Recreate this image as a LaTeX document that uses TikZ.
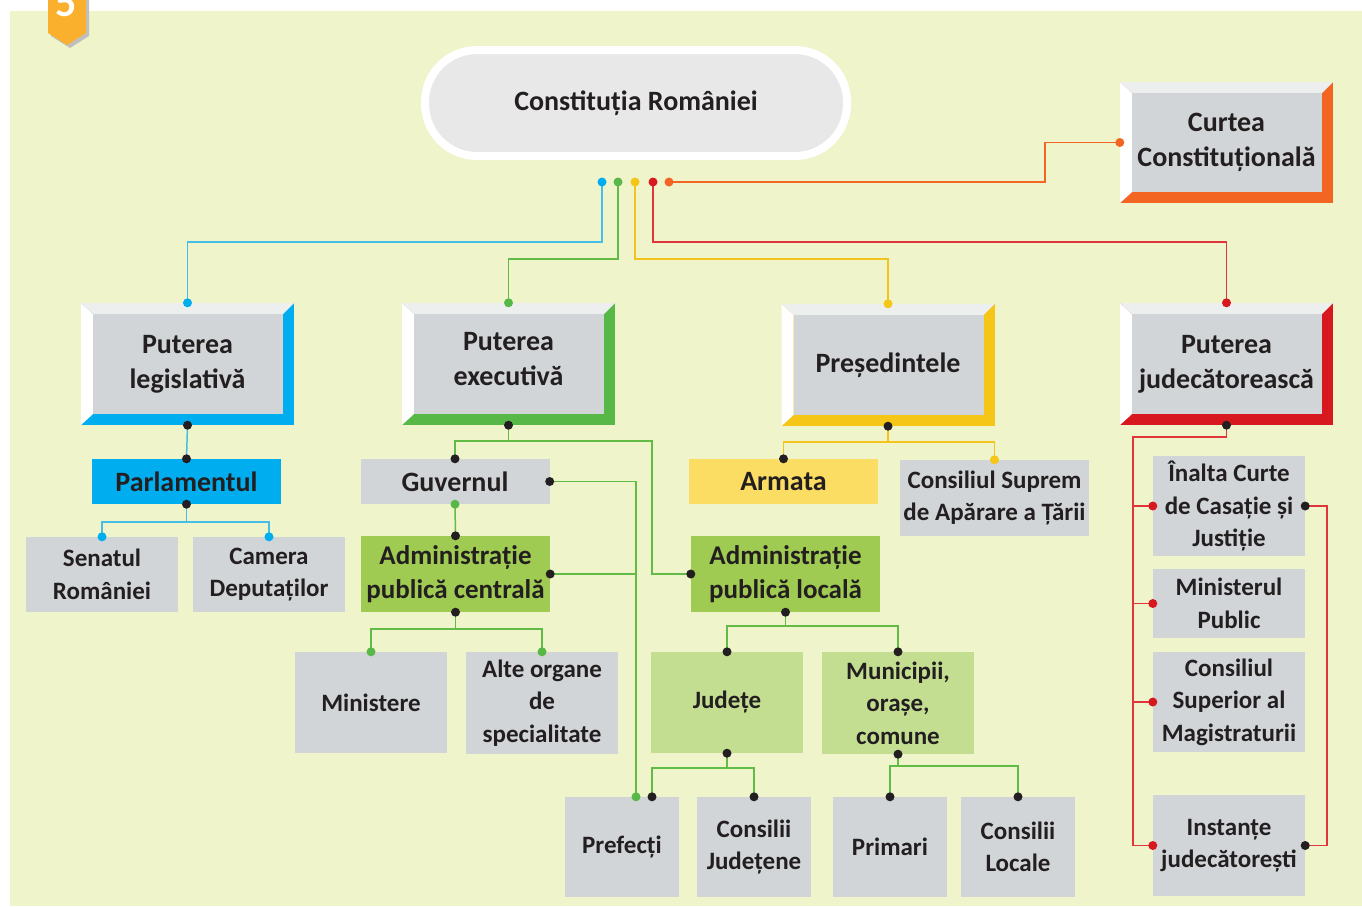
\documentclass[tikz,border=0pt]{standalone}
\usepackage{fontspec}
\setmainfont{Carlito}
\usetikzlibrary{arrows.meta,positioning,calc}
\definecolor{bggreen}{HTML}{EFF4CB}
\definecolor{boxgray}{HTML}{D2D5D8}
\definecolor{pillgray}{HTML}{E8E8E8}
\definecolor{bevellight}{HTML}{EDEFEF}
\definecolor{ink}{HTML}{231F20}
\definecolor{cblue}{HTML}{00AEEF}
\definecolor{bluewire}{HTML}{45BFE8}
\definecolor{cgreen}{HTML}{57B848}
\definecolor{greenwire}{HTML}{62BB46}
\definecolor{greenfill}{HTML}{A0CB52}
\definecolor{lightgreen}{HTML}{C4DE91}
\definecolor{cyellow}{HTML}{F5C518}
\definecolor{yellowwire}{HTML}{F3C320}
\definecolor{yellowfill}{HTML}{FCDD63}
\definecolor{cred}{HTML}{D7191F}
\definecolor{redwire}{HTML}{E0363B}
\definecolor{corange}{HTML}{F26522}
\definecolor{badge}{HTML}{FBB02D}
\newcommand{\fstitle}{\fontsize{28}{34}\selectfont\bfseries}
\newcommand{\fshead}{\fontsize{28}{35}\selectfont\bfseries}
\newcommand{\fsbox}{\fontsize{25}{32.5}\selectfont\bfseries}

\begin{document}
\begin{tikzpicture}[
  x=1pt,y=-1pt,
  wire/.style={line width=1.5pt,draw=#1},
  bevel/.style={minimum width=213pt,minimum height=122pt,inner sep=0pt,
    fill=#1,align=center,font=\fshead,text=ink,
    path picture={
      \fill[white] (path picture bounding box.south west)
        -- (path picture bounding box.north west)
        -- ([shift={(12pt,-11pt)}]path picture bounding box.north west)
        -- ([shift={(12pt,11pt)}]path picture bounding box.south west) -- cycle;
      \fill[bevellight] (path picture bounding box.north west)
        -- (path picture bounding box.north east)
        -- ([shift={(-11pt,-11pt)}]path picture bounding box.north east)
        -- ([shift={(12pt,-11pt)}]path picture bounding box.north west) -- cycle;
      \fill[boxgray] ([shift={(12pt,11pt)}]path picture bounding box.south west)
        rectangle ([shift={(-11pt,-11pt)}]path picture bounding box.north east);
    }},
  tag/.style={fill=#1,minimum width=189pt,inner sep=0pt,align=center,
    font=\fshead,text=ink},
  leaf/.style={fill=#1,minimum width=152pt,inner sep=0pt,align=center,
    font=\fsbox,text=ink},
  small/.style={fill=boxgray,minimum width=114pt,minimum height=100pt,
    inner sep=0pt,align=center,font=\fsbox,text=ink}
]
\useasboundingbox (0,0) rectangle (1362,906);
\clip (0,0) rectangle (1362,906);
\fill[white] (0,0) rectangle (1362,906);
\fill[bggreen] (10,11) rectangle (1362,906);

% badge
\fill[black!25] (51,-20) -- (89,-20) -- (89,36) -- (70,48) -- (51,36) -- cycle;
\fill[badge] (48,-20) -- (86,-20) -- (86,33) -- (67,45) -- (48,33) -- cycle;
\node[text=white,font=\fontsize{42}{42}\selectfont\bfseries] (num) at (66,3) {5};

% constitution
\node[fill=pillgray,draw=white,line width=8pt,rounded corners=52pt,
  minimum width=422pt,minimum height=106pt,font=\fstitle,text=ink]
  (const) at (636,103) {Constituția României};
\coordinate (dB) at (602,182);
\coordinate (dG) at (618,182);
\coordinate (dY) at (635,182);
\coordinate (dR) at (653,182);
\coordinate (dO) at (669,182);

% powers
\node[bevel=cblue] (legis) at (187.5,364) {Puterea\\legislativă};
\node[bevel=cgreen] (exec) at (508.5,364) {Puterea\\executivă\strut};
\node[bevel=cyellow] (pres) at (888,365) {Președintele};
\node[bevel=cred] (jud) at (1226.5,364) {Puterea\\judecătorească};
\node[bevel=corange,minimum height=121pt] (curtea) at (1226.5,142.5)
  {Curtea\\Constituțională};

% legislative
\node[tag=cblue,minimum height=45pt] (parl) at (186.5,481.5) {Parlamentul};
\node[leaf=boxgray,minimum height=75pt] (senat) at (102,574.5) {Senatul\\României};
\node[leaf=boxgray,minimum height=75pt] (camera) at (269,574.5) {Camera\\Deputaților};

% executive
\node[tag=boxgray,minimum height=45pt] (guv) at (455,481.5) {Guvernul};
\node[tag=greenfill,minimum height=76pt,font=\fontsize{27}{34}\selectfont\bfseries]
  (apc) at (455.5,574) {Administrație\\publică centrală};
\node[leaf=boxgray,minimum height=101pt] (mini) at (371,702.5) {Ministere};
\node[leaf=boxgray,minimum height=102pt] (alte) at (542,703)
  {Alte organe\\de\\specialitate};
\node[tag=greenfill,minimum height=76pt,font=\fontsize{27}{34}\selectfont\bfseries]
  (apl) at (785.5,574) {Administrație\\publică locală};
\node[leaf=lightgreen,minimum height=101pt] (judete) at (727,702.5) {Județe};
\node[leaf=lightgreen,minimum height=102pt] (munic) at (898,703)
  {Municipii,\\orașe,\\comune};
\node[small] (pref) at (622,847) {Prefecți};
\node[small] (cj) at (754,847) {Consilii\\Județene};
\node[small] (primari) at (890,847) {Primari};
\node[small] (cl) at (1018,847) {Consilii\\Locale};
\coordinate (prefin) at ([xshift=14pt]pref.north);
\coordinate (prefj) at ([xshift=30pt]pref.north);

% president
\node[tag=yellowfill,minimum height=45pt] (armata) at (783.5,481.5) {Armata};
\node[tag=boxgray,minimum height=76pt,font=\fsbox] (csat) at (994.5,498)
  {Consiliul Suprem\\de Apărare a Țării};

% judiciary
\node[leaf=boxgray,minimum height=100pt] (iccj) at (1229,506)
  {Înalta Curte\\de Casație și\\Justiție};
\node[leaf=boxgray,minimum height=69pt] (mp) at (1229,603.5) {Ministerul\\Public};
\node[leaf=boxgray,minimum height=100pt] (csm) at (1229,702)
  {Consiliul\\Superior al\\Magistraturii};
\node[leaf=boxgray,minimum height=101pt] (inst) at (1229,845.5)
  {Instanțe\\judecătorești};

% connectors
\draw[wire=bluewire] (dB) -- ++(0,60) -| (legis.north);
\draw[wire=greenwire] (dG) -- ++(0,77) -| (exec.north);
\draw[wire=yellowwire] (dY) -- ++(0,77) -| (pres.north);
\draw[wire=redwire] (dR) -- ++(0,60) -| (jud.north);
\draw[wire=corange] (dO) -- ++(376,0) |- (curtea.west);

\draw[wire=bluewire] (legis.south) -- (parl.north);
\draw[wire=bluewire] (parl.south) -- ++(0,18) -| (senat.north);
\draw[wire=bluewire] (parl.south) ++(0,18) -| (camera.north);

\draw[wire=greenwire] (exec.south) -- ++(0,16) -| (guv.north);
\draw[wire=greenwire] (exec.south) ++(0,16) -| ([xshift=-39pt]apl.west) -- (apl.west);
\draw[wire=greenwire] (guv.south) -- (apc.north);
\draw[wire=greenwire] (guv.east) -| (prefin);
\draw[wire=greenwire] (apc.east) -- (apc.east -| prefin);
\draw[wire=greenwire] (apc.south) -- ++(0,17) -| (mini.north);
\draw[wire=greenwire] (apc.south) ++(0,17) -| (alte.north);
\draw[wire=greenwire] (apl.south) -- ++(0,14) -| (judete.north);
\draw[wire=greenwire] (apl.south) ++(0,14) -| (munic.north);
\draw[wire=greenwire] (judete.south) -- ++(0,15) -| (prefj);
\draw[wire=greenwire] (judete.south) ++(0,15) -| (cj.north);
\draw[wire=greenwire] (munic.south) -- ++(0,12) -| (primari.north);
\draw[wire=greenwire] (munic.south) ++(0,12) -| (cl.north);

\draw[wire=yellowwire] (pres.south) -- ++(0,16) -| (armata.north);
\draw[wire=yellowwire] (pres.south) ++(0,16) -| (csat.north);

\draw[wire=redwire] (jud.south) -- ++(0,12) -| ([xshift=-20pt]inst.west) -- (inst.west);
\foreach \n in {iccj,mp,csm}
  \draw[wire=redwire] ([xshift=-20pt]\n.west) -- (\n.west);
\draw[wire=redwire] (iccj.east) -- ++(22,0) |- (inst.east);

% dots
\foreach \p in {legis.south,parl.north,parl.south,exec.south,guv.north,
  guv.east,apc.north,apc.east,apc.south,pres.south,armata.north,apl.west,
  apl.south,judete.north,munic.north,judete.south,munic.south,prefj,
  cj.north,primari.north,cl.north,jud.south,iccj.east,inst.east}
  \fill[ink] (\p) circle (4.5pt);
\foreach \p in {dB,legis.north,senat.north,camera.north}
  \fill[cblue] (\p) circle (4.5pt);
\foreach \p in {dG,exec.north,guv.south,mini.north,alte.north,prefin}
  \fill[cgreen] (\p) circle (4.5pt);
\foreach \p in {dY,pres.north,csat.north}
  \fill[cyellow] (\p) circle (4.5pt);
\foreach \p in {dR,jud.north,iccj.west,mp.west,csm.west,inst.west}
  \fill[cred] (\p) circle (4.5pt);
\foreach \p in {dO,curtea.west}
  \fill[corange] (\p) circle (4.5pt);
\end{tikzpicture}
\end{document}
